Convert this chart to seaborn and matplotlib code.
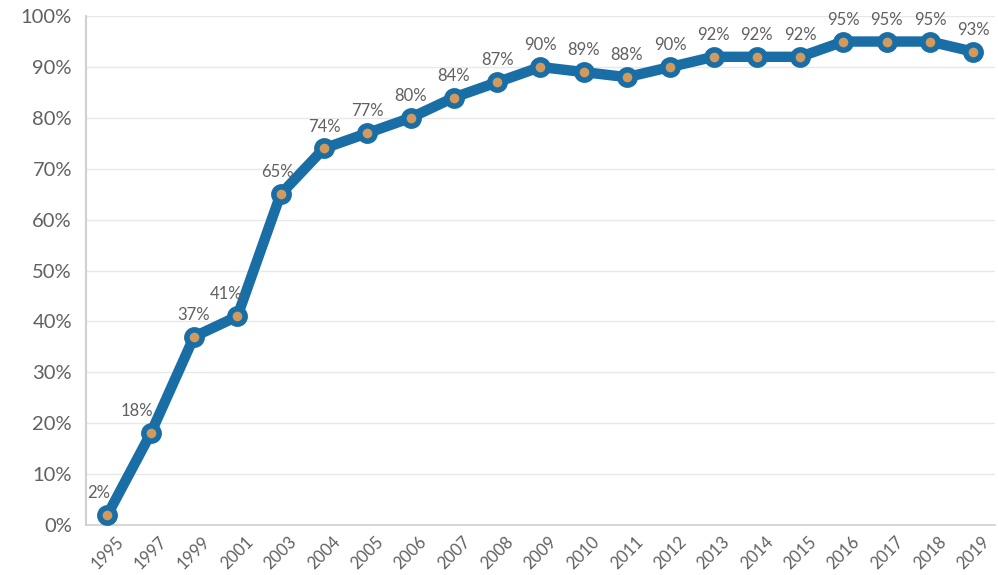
import matplotlib.pyplot as plt
import numpy as np
import pandas as pd
import seaborn as sns

# data
years = ["1995", "1997", "1999", "2001", "2003", "2004", "2005", "2006", "2007",
         "2008", "2009", "2010", "2011", "2012", "2013", "2014", "2015", "2016",
         "2017", "2018", "2019"]
share = [2, 18, 37, 41, 65, 74, 77, 80, 84, 87, 90, 89, 88, 90, 92, 92, 92, 95,
         95, 95, 93]
y_ticks = [0, 10, 20, 30, 40, 50, 60, 70, 80, 90, 100]

df = pd.DataFrame({"pos": np.arange(len(years)), "share": share})

sns.set_style("white")
plt.rcParams["font.family"] = ["Lato", "DejaVu Sans"]

BLUE = "#1a6ea6"
TAN = "#d29a5c"
GRAY = "#606060"

fig = plt.figure(figsize=(9.98, 5.75), dpi=100)
ax = fig.add_axes([0.086, 0.087, 0.911, 0.885])

sns.lineplot(data=df, x="pos", y="share", ax=ax, color=BLUE, linewidth=7.5,
             marker="o", markersize=11, markerfacecolor=TAN,
             markeredgecolor=BLUE, markeredgewidth=4, zorder=3)

# data labels - steep early points sit a bit to the left
shift = {0: -6, 1: -10, 3: -8, 4: -2}
for i, v in enumerate(share):
    ax.annotate(f"{v}%", (i, v), xytext=(shift.get(i, 0), 10),
                textcoords="offset points", ha="center", va="bottom",
                fontsize=12, color=GRAY)

ax.set_xlim(-0.5, len(years) - 0.5)
ax.set_ylim(0, 100)
ax.set_yticks(y_ticks)
ax.set_yticklabels([f"{t}%" for t in y_ticks], fontsize=14.5, color=GRAY)
ax.set_xticks(range(len(years)))
ax.set_xticklabels(years, rotation=45, ha="center", fontsize=12, color=GRAY)
ax.set_xticks(np.arange(len(years) + 1) - 0.5, minor=True)
ax.tick_params(axis="x", which="major", length=0, pad=6)
ax.tick_params(axis="x", which="minor", length=5, color="#cccccc", width=1)
ax.tick_params(axis="y", length=4, color="#cccccc", pad=6)
ax.set_xlabel("")
ax.set_ylabel("")

ax.grid(axis="y", color="#e8e8e8", linewidth=1)
ax.set_axisbelow(True)
for side in ["top", "right"]:
    ax.spines[side].set_visible(False)
ax.spines["left"].set_color("#d0d0d0")
ax.spines["bottom"].set_color("#cfcfcf")
ax.spines["left"].set_linewidth(1.5)
ax.spines["bottom"].set_linewidth(1.2)

fig.savefig("out.png", dpi=100)
